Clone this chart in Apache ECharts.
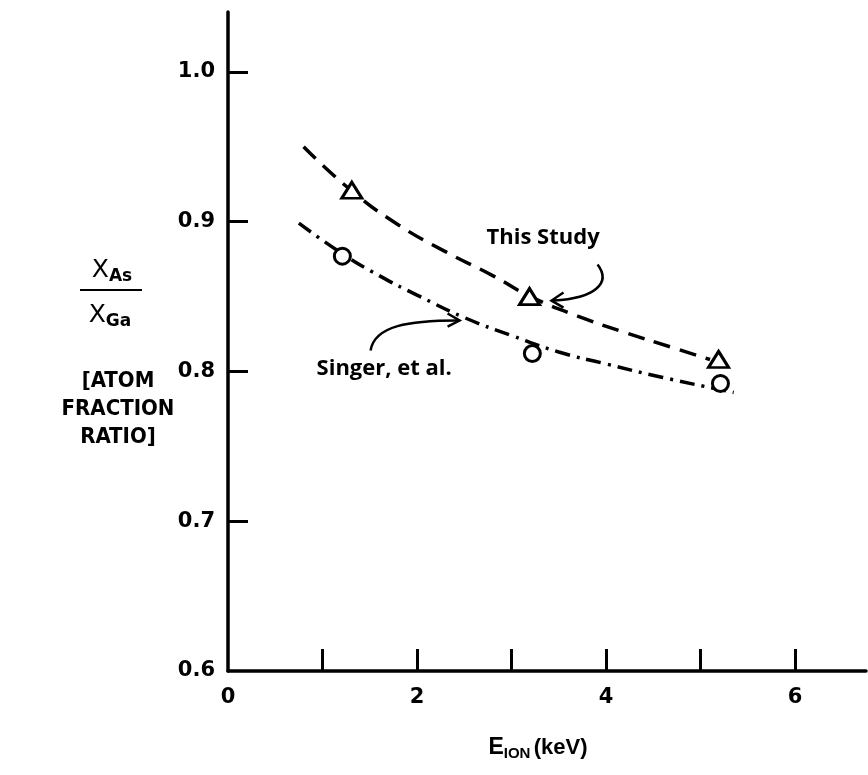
<!DOCTYPE html>
<html>
<head>
<meta charset="utf-8">
<script src="https://cdn.jsdelivr.net/npm/echarts@6/dist/echarts.min.js"></script>
<style>
  html, body { margin: 0; padding: 0; background: #fff; }
  #chart1 { width: 868px; height: 775px; }
</style>
</head>
<body>
<div id="chart1"></div>
<script>
// measured points
var thisStudyX = [1.31, 3.19, 5.19];
var thisStudyY = [0.921, 0.850, 0.808];
var singerX = [1.21, 3.22, 5.21];
var singerY = [0.877, 0.812, 0.792];
// fitted curves
var thisStudyCurveX = [0.8, 1.3, 1.8, 2.3, 2.8, 3.2, 3.7, 4.2, 4.7, 5.1];
var thisStudyCurveY = [0.950, 0.921, 0.898, 0.880, 0.864, 0.850, 0.837, 0.826, 0.816, 0.808];
var singerCurveX = [0.75, 1.2, 1.6, 2.0, 2.5, 3.0, 3.5, 4.0, 4.6, 5.35];
var singerCurveY = [0.899, 0.879, 0.864, 0.851, 0.836, 0.824, 0.813, 0.805, 0.796, 0.786];
// axis ticks
var xTicks = [1, 2, 3, 4, 5, 6];
var xLabels = [0, 2, 4, 6];
var yTicks = [0.7, 0.8, 0.9, 1.0];
var yLabels = [0.6, 0.7, 0.8, 0.9, 1.0];

function zip (xs, ys) {
    return xs.map(function (x, i) { return [x, ys[i]]; });
}

var myChart = echarts.init(document.getElementById('chart1'));
var font = 'Liberation Sans';
var tickFont = 'DejaVu Sans';
var narrow = "'Liberation Sans Narrow', 'DejaVu Sans Condensed', sans-serif";
var option = {
    backgroundColor: '#fff',
    animation: false,
    grid: { left: 228, right: 2, top: 12, bottom: 104, containLabel: false },
    xAxis: {
        type: 'value',
        min: 0,
        max: 6.75,
        name: '{e|E}{s|ION} {u|(keV)}',
        nameLocation: 'middle',
        nameGap: 64,
        nameTextStyle: {
            padding: [0, 18, 0, 0],
            rich: {
                e: { fontFamily: font, fontSize: 23, fontWeight: 'bold', color: '#000' },
                s: { fontFamily: font, fontSize: 15, fontWeight: 'bold', color: '#000', verticalAlign: 'bottom', padding: [11, 0, 0, 0] },
                u: { fontFamily: font, fontSize: 22, fontWeight: 'bold', color: '#000' }
            }
        },
        axisLine: { lineStyle: { color: '#000', width: 3.5 } },
        axisTick: { inside: true, length: 22, customValues: xTicks, lineStyle: { color: '#000', width: 3 } },
        axisLabel: {
            customValues: xLabels,
            margin: 16,
            fontFamily: tickFont, fontSize: 21, fontWeight: 'bold', color: '#000'
        },
        splitLine: { show: false }
    },
    yAxis: {
        type: 'value',
        min: 0.6,
        max: 1.04,
        axisLine: { lineStyle: { color: '#000', width: 3.5 } },
        axisTick: { inside: true, length: 20, customValues: yTicks, lineStyle: { color: '#000', width: 3 } },
        axisLabel: {
            customValues: yLabels,
            margin: 13,
            fontFamily: tickFont, fontSize: 21, fontWeight: 'bold', color: '#000',
            formatter: function (v) { return v.toFixed(1); }
        },
        splitLine: { show: false }
    },
    series: [
        {
            name: 'This Study curve',
            type: 'line',
            smooth: true,
            showSymbol: false,
            data: zip(thisStudyCurveX, thisStudyCurveY),
            lineStyle: { color: '#000', width: 3.5, type: [17, 10] }
        },
        {
            name: 'Singer curve',
            type: 'line',
            smooth: true,
            showSymbol: false,
            data: zip(singerCurveX, singerCurveY),
            lineStyle: { color: '#000', width: 3.5, type: [15, 7, 3, 7] }
        },
        {
            name: 'This Study',
            type: 'scatter',
            symbol: 'triangle',
            symbolSize: [20, 16],
            data: zip(thisStudyX, thisStudyY),
            itemStyle: { color: '#fff', borderColor: '#000', borderWidth: 3, opacity: 1 },
            z: 5
        },
        {
            name: 'Singer, et al.',
            type: 'scatter',
            symbol: 'circle',
            symbolSize: 16,
            data: zip(singerX, singerY),
            itemStyle: { color: '#fff', borderColor: '#000', borderWidth: 3, opacity: 1 },
            z: 5
        }
    ]
};
myChart.setOption(option);

// annotations anchored to the data
var p1 = myChart.convertToPixel({ gridIndex: 0 }, [thisStudyX[1], thisStudyY[1]]);
var p2 = myChart.convertToPixel({ gridIndex: 0 }, [2.45, 0.834]);
var yCenter = 116;
var arrow = { stroke: '#000', lineWidth: 2.5, fill: null };
var labelFont = { fontFamily: 'Open Sans', fontSize: 22, fontWeight: 'bold', fill: '#000' };
myChart.setOption({
    graphic: [
        { type: 'text', x: p1[0] - 43, y: p1[1] - 70,
          style: Object.assign({ text: 'This Study' }, labelFont) },
        { type: 'bezierCurve', shape: { x1: p1[0] + 68, y1: p1[1] - 32, cpx1: p1[0] + 82, cpy1: p1[1] - 14,
            cpx2: p1[0] + 66, cpy2: p1[1] + 2, x2: p1[0] + 24, y2: p1[1] + 4 }, style: arrow },
        { type: 'polyline', shape: { points: [[p1[0] + 34, p1[1] - 4], [p1[0] + 22, p1[1] + 4], [p1[0] + 34, p1[1] + 11]] },
          style: arrow },
        { type: 'text', x: p2[0] - 143, y: p2[1] + 37,
          style: Object.assign({ text: 'Singer, et al.' }, labelFont) },
        { type: 'bezierCurve', shape: { x1: p2[0] - 89, y1: p2[1] + 30, cpx1: p2[0] - 85, cpy1: p2[1] + 5,
            cpx2: p2[0] - 50, cpy2: p2[1], x2: p2[0] - 2, y2: p2[1] }, style: arrow },
        { type: 'polyline', shape: { points: [[p2[0] - 12, p2[1] - 7], [p2[0], p2[1]], [p2[0] - 12, p2[1] + 6]] },
          style: arrow },
        // y axis title
        { type: 'text', x: yCenter - 4, y: 285, style: { text: '{x|X}{s|As}', rich: {
            x: { fontFamily: tickFont, fontSize: 25, fill: '#000' },
            s: { fontFamily: tickFont, fontSize: 17, fontWeight: 'bold', fill: '#000', padding: [12, 0, 0, 0] } },
            align: 'center', verticalAlign: 'bottom' } },
        { type: 'line', shape: { x1: yCenter - 36, y1: 290, x2: yCenter + 26, y2: 290 }, style: { stroke: '#000', lineWidth: 2 } },
        { type: 'text', x: yCenter - 6, y: 301, style: { text: '{x|X}{s|Ga}', rich: {
            x: { fontFamily: tickFont, fontSize: 25, fill: '#000' },
            s: { fontFamily: tickFont, fontSize: 17, fontWeight: 'bold', fill: '#000', padding: [12, 0, 0, 0] } },
            align: 'center', verticalAlign: 'top' } },
        { type: 'text', x: yCenter + 2, y: 367, style: { text: '[ATOM\nFRACTION\nRATIO]',
            fontFamily: narrow, fontSize: 22, fontWeight: 'bold', fill: '#000', lineHeight: 28, align: 'center' } }
    ]
});
window.onresize = myChart.resize;
</script>
</body>
</html>
